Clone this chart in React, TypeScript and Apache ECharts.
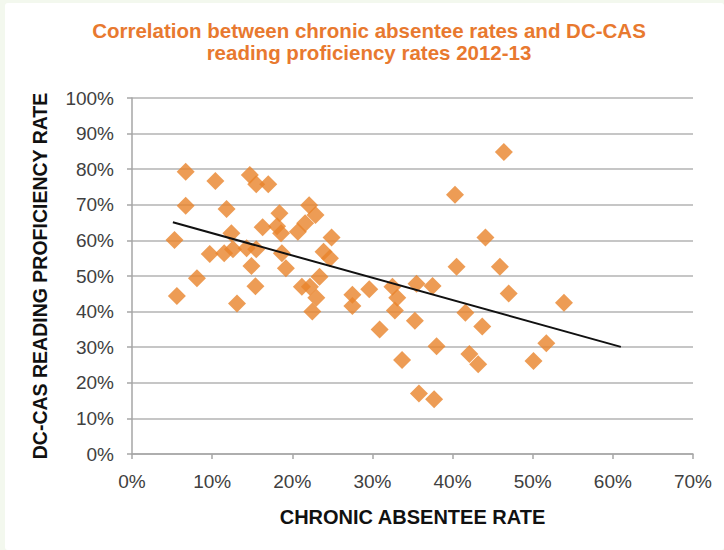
import React, { useEffect, useRef } from "react";
import * as echarts from "echarts";

const titleLines = [
  "Correlation between chronic absentee rates and DC-CAS",
  "reading proficiency rates 2012-13",
];
const xAxisTitle = "CHRONIC ABSENTEE RATE";
const yAxisTitle = "DC-CAS READING PROFICIENCY RATE";

// chronic absentee rate (%)
const absenteeRate = [
  5.3, 5.6, 6.7, 6.7, 8.1, 9.7, 10.4, 11.8, 11.5, 12.4, 12.6, 13.1, 14.7, 15.5, 17.0,
  14.3, 15.5, 14.9, 15.4, 16.3, 18.4, 18.1, 18.6, 18.7, 19.2, 20.7, 21.6, 22.1, 22.9,
  21.2, 22.2, 22.5, 23.0, 23.4, 23.9, 24.7, 24.9, 27.5, 27.5, 29.6, 30.9, 32.5, 33.1,
  32.8, 33.7, 35.3, 35.5, 35.8, 37.5, 37.7, 38.0, 40.3, 40.5, 41.6, 42.1, 43.2, 43.7,
  44.1, 45.9, 46.4, 47.0, 50.1, 51.7, 53.9,
];
// reading proficiency rate (%)
const proficiencyRate = [
  60.1, 44.4, 79.3, 69.7, 49.4, 56.2, 76.7, 68.8, 56.4, 62.0, 57.5, 42.3, 78.4, 75.8, 75.8,
  57.8, 57.5, 52.8, 47.1, 63.7, 67.6, 64.0, 62.0, 56.4, 52.2, 62.4, 64.8, 69.9, 67.1,
  47.0, 47.0, 40.0, 43.9, 49.8, 56.8, 55.0, 60.8, 44.7, 41.6, 46.3, 35.0, 47.0, 43.9,
  40.3, 26.4, 37.4, 47.8, 17.0, 47.2, 15.4, 30.3, 72.8, 52.6, 39.7, 28.1, 25.2, 35.8,
  60.8, 52.6, 84.8, 45.1, 26.1, 31.1, 42.5,
];
// trend line endpoints
const trendX = [5.1, 61.0];
const trendY = [65.1, 30.1];

const xTicks = { min: 0, max: 70, interval: 10 };
const yTicks = { min: 0, max: 100, interval: 10 };

export default function App() {
  const ref = useRef<HTMLDivElement>(null);
  useEffect(() => {
    if (!ref.current) return;
    const chart = echarts.init(ref.current, undefined, { renderer: "svg" });
    const points = absenteeRate.map((x, i) => [x, proficiencyRate[i]]);
    const trend = trendX.map((x, i) => [x, trendY[i]]);
    const font = "'Liberation Sans', Arial, sans-serif";
    chart.setOption({
      animation: false,
      backgroundColor: "#f3f8ee",
      graphic: [
        {
          type: "rect",
          z: -10,
          shape: { x: 5, y: 3, width: 719, height: 547, r: 3 },
          style: { fill: "#ffffff" },
          silent: true,
        },
        ...titleLines.map((line, i) => ({
          type: "text",
          x: 369,
          y: 30 + i * 22,
          silent: true,
          style: {
            text: line,
            fill: "#e8792f",
            font: `bold 20.5px ${font}`,
            textAlign: "center",
            textVerticalAlign: "middle",
          },
        })),
      ],
      grid: { left: 132, right: 31, top: 98, bottom: 96 },
      xAxis: {
        type: "value",
        min: xTicks.min,
        max: xTicks.max,
        interval: xTicks.interval,
        name: xAxisTitle,
        nameLocation: "middle",
        nameGap: 53,
        nameTextStyle: { fontFamily: font, fontSize: 20, fontWeight: "bold", color: "#111" },
        axisLine: { lineStyle: { color: "#a6a6a6", width: 1.5 } },
        axisTick: { show: true, length: 5, lineStyle: { color: "#a6a6a6", width: 1.5 } },
        axisLabel: {
          formatter: "{value}%",
          fontFamily: font,
          fontSize: 19,
          color: "#404040",
          margin: 18,
        },
        splitLine: { show: false },
      },
      yAxis: {
        type: "value",
        min: yTicks.min,
        max: yTicks.max,
        interval: yTicks.interval,
        name: yAxisTitle,
        nameLocation: "middle",
        nameGap: 82,
        nameTextStyle: { fontFamily: font, fontSize: 19.5, fontWeight: "bold", color: "#111" },
        axisLine: { show: true, lineStyle: { color: "#a6a6a6", width: 1.5 } },
        axisTick: { show: true, length: 5, lineStyle: { color: "#a6a6a6", width: 1.5 } },
        axisLabel: {
          formatter: "{value}%",
          fontFamily: font,
          fontSize: 19,
          color: "#404040",
          margin: 18,
        },
        splitLine: { show: true, lineStyle: { color: "#b3b3b3", width: 1.5 } },
      },
      series: [
        {
          type: "scatter",
          data: points,
          symbol: "diamond",
          symbolSize: 18,
          itemStyle: { color: "#e8832a" },
          z: 2,
        },
        {
          type: "line",
          data: trend,
          symbol: "none",
          lineStyle: { color: "#111111", width: 2 },
          z: 3,
        },
      ],
    });
    return () => chart.dispose();
  }, []);
  return (
    <div
      ref={ref}
      style={{ position: "absolute", left: 0, top: 0, width: 724, height: 550 }}
    />
  );
}
